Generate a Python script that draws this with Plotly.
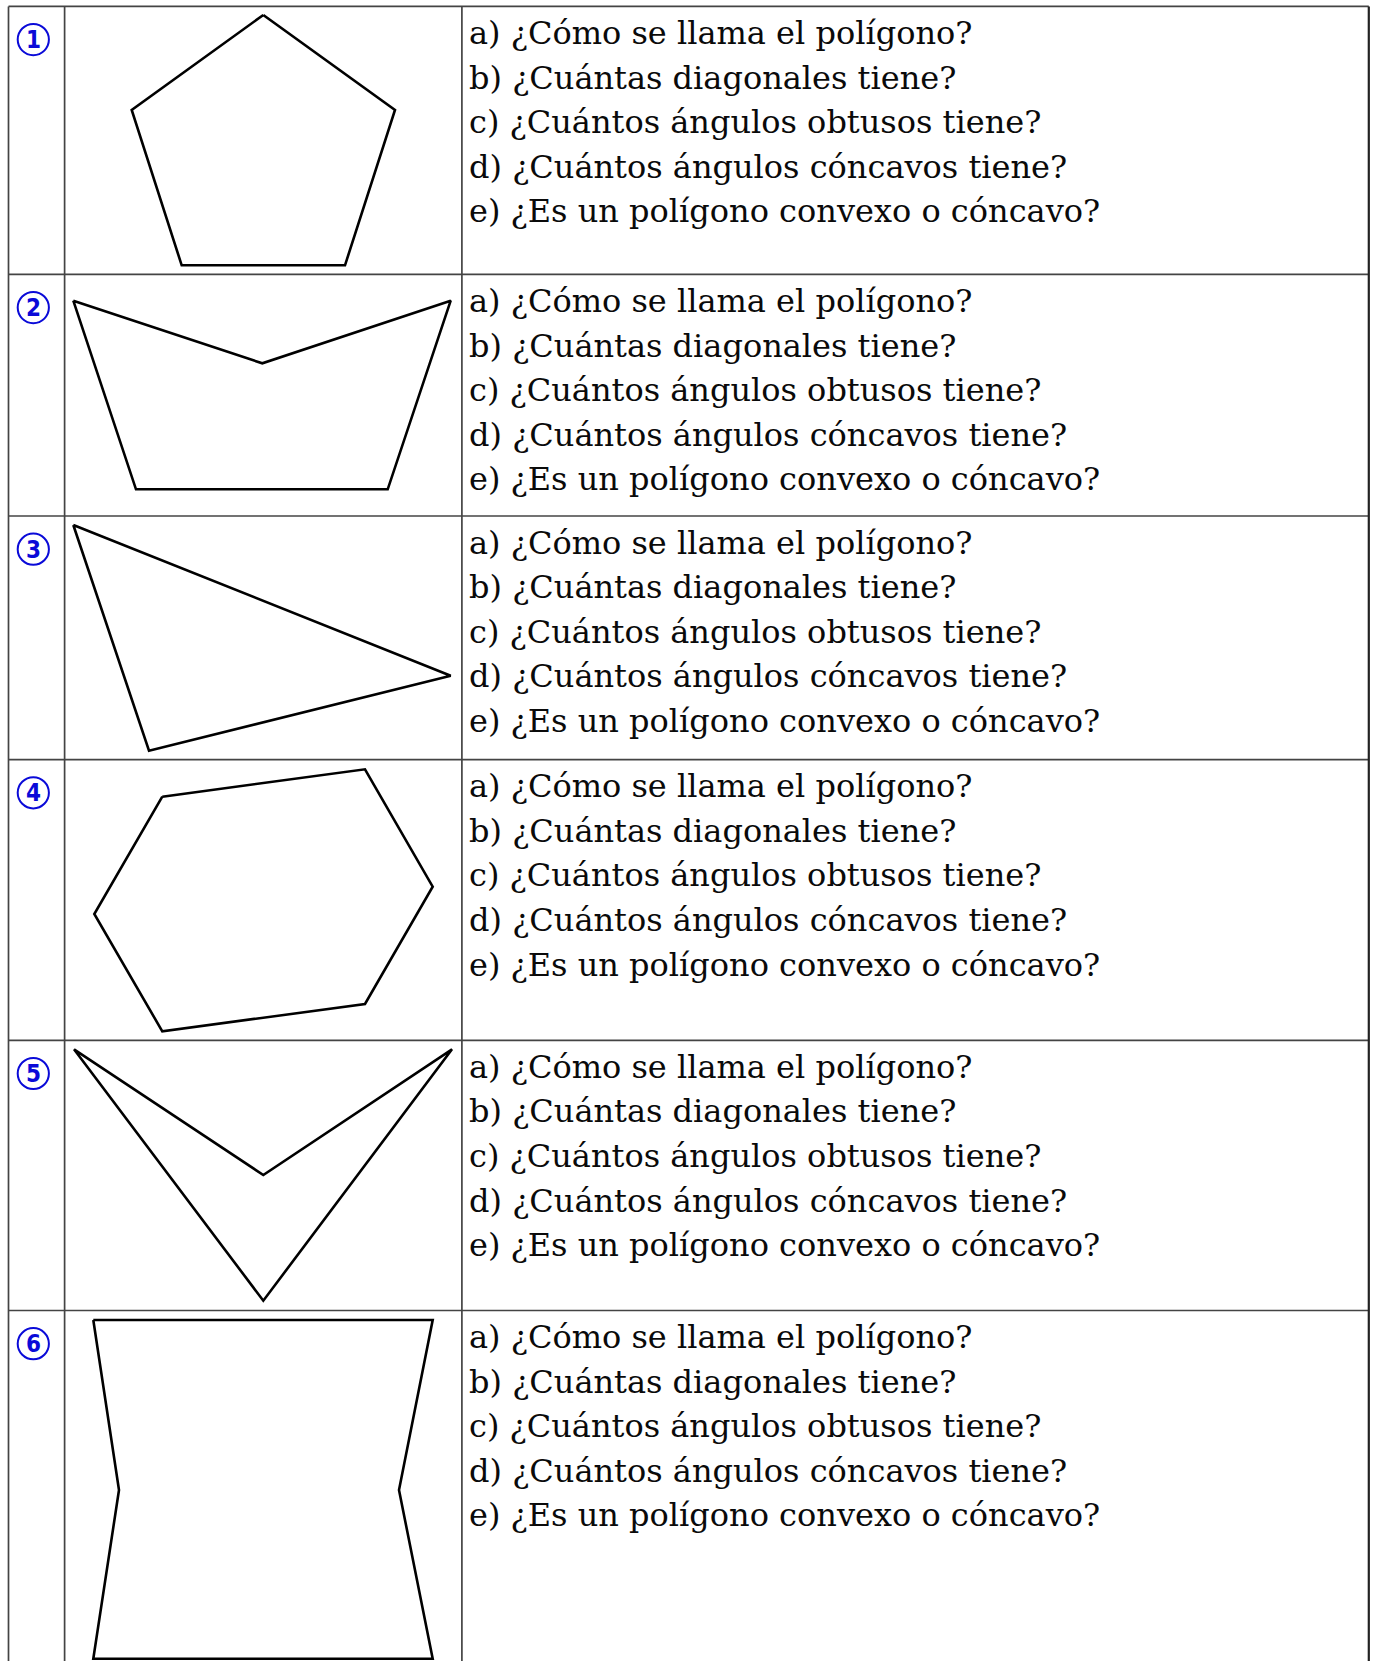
import plotly.graph_objects as go

# table layout (page pixels)
col_edges = [8.5, 64.6, 461.9, 1368.8]
row_tops = [6.4, 274.4, 516.0, 759.6, 1040.3, 1310.5]
page_bottom = 1661

numbers = ['1', '2', '3', '4', '5', '6']

questions = [
    'a) ¿Cómo se llama el polígono?',
    'b) ¿Cuántas diagonales tiene?',
    'c) ¿Cuántos ángulos obtusos tiene?',
    'd) ¿Cuántos ángulos cóncavos tiene?',
    'e) ¿Es un polígono convexo o cóncavo?',
]

# polygon vertices, relative to the top-left corner of their figure cell
pentagon_x = [198.7, 330.4, 280.4, 117.1, 67.1]
pentagon_y = [8.6, 103.6, 258.9, 258.9, 103.6]

notched_x = [8.7, 197.7, 386.1, 323.1, 71.4]
notched_y = [26.3, 88.9, 26.3, 214.9, 214.9]

triangle_x = [8.7, 386.1, 84.4]
triangle_y = [9.0, 159.7, 234.7]

hexagon_x = [97.7, 300.4, 368.1, 300.4, 97.7, 29.7]
hexagon_y = [37.1, 9.7, 127.1, 244.4, 271.7, 154.4]

arrow_x = [9.4, 198.7, 387.4, 198.7]
arrow_y = [9.0, 134.7, 9.0, 260.4]

waist_x = [28.7, 368.1, 334.4, 368.1, 28.7, 54.4]
waist_y = [9.5, 9.5, 179.5, 348.2, 348.2, 179.5]

polygons = [
    (pentagon_x, pentagon_y),
    (notched_x, notched_y),
    (triangle_x, triangle_y),
    (hexagon_x, hexagon_y),
    (arrow_x, arrow_y),
    (waist_x, waist_y),
]

W, H = 1374, 1661
grid_color = '#444444'
blue = '#0a0ad8'
line_gap = 44.6

fig = go.Figure()

# polygons
for (px, py), top in zip(polygons, row_tops):
    xs = [col_edges[1] + v for v in px] + [col_edges[1] + px[0]]
    ys = [top + v for v in py] + [top + py[0]]
    fig.add_trace(go.Scatter(x=xs, y=ys, mode='lines',
                             line=dict(color='black', width=2.6),
                             hoverinfo='skip', showlegend=False))

shapes = []
# horizontal table lines
for top in row_tops:
    shapes.append(dict(type='line', xref='x', yref='y', x0=col_edges[0], x1=col_edges[-1],
                       y0=top, y1=top, line=dict(color=grid_color, width=1.7)))
# vertical table lines
for i, cx in enumerate(col_edges):
    last = i == len(col_edges) - 1
    shapes.append(dict(type='line', xref='x', yref='y', x0=cx, x1=cx,
                       y0=row_tops[0], y1=page_bottom + 5,
                       line=dict(color='#222222' if last else grid_color, width=2.2 if last else 1.7)))

annotations = []
for num, top in zip(numbers, row_tops):
    cx, cy = 33.3, top + 33.2
    shapes.append(dict(type='circle', xref='x', yref='y', x0=cx - 15.6, x1=cx + 15.6,
                       y0=cy - 15.6, y1=cy + 15.6, line=dict(color=blue, width=2)))
    annotations.append(dict(x=cx, y=cy + 0.5, xref='x', yref='y', text=num, showarrow=False,
                            xanchor='center', yanchor='middle',
                            font=dict(family='DejaVu Sans Condensed', size=24, color=blue, weight='bold')))
    for k, q in enumerate(questions):
        annotations.append(dict(x=col_edges[2] + 5, y=top + 26.5 + k * line_gap, xref='x', yref='y',
                                text=q, showarrow=False, xanchor='left', yanchor='middle',
                                font=dict(family='DejaVu Serif', size=32, color='#0a0a0a')))

fig.update_layout(
    width=W, height=H,
    margin=dict(l=0, r=0, t=0, b=0),
    paper_bgcolor='white', plot_bgcolor='white',
    xaxis=dict(range=[0, W], visible=False, fixedrange=True),
    yaxis=dict(range=[H, 0], visible=False, fixedrange=True),
    shapes=shapes,
    annotations=annotations,
)

fig.write_html("out.html", config={'displayModeBar': False},
               post_script="document.body.style.margin='0';")
